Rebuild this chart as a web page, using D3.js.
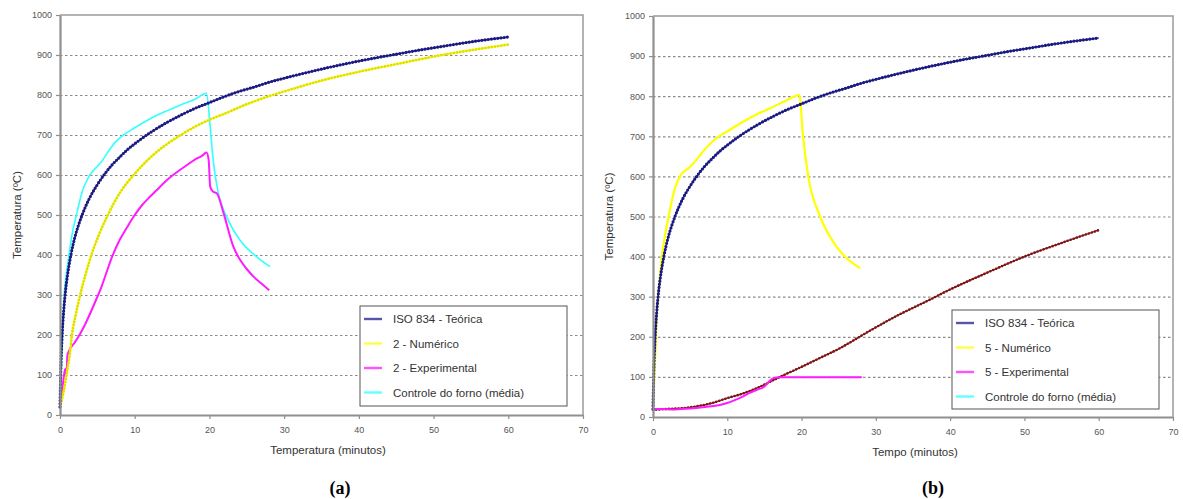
<!DOCTYPE html>
<html lang="pt">
<head>
<meta charset="utf-8">
<title>Temperatura x tempo</title>
<script src="https://cdn.jsdelivr.net/npm/d3@7"></script>
<style>
  body { margin: 0; background: #fff; }
  svg text { font-family: "Liberation Sans", Arial, sans-serif; }
  .tick text { fill: #555; font-size: 9px; }
  .grid line { stroke: #8a8a8a; stroke-dasharray: 2.5 2.5; stroke-width: 1.2; }
  .grid .domain { display: none; }
  .axis .domain { stroke: #8f8f8f; stroke-width: 2.2; }
  .axis .tick line { stroke: #8f8f8f; stroke-width: 1.2; }
  .legend-box { fill: #fff; stroke: #555; stroke-width: 1; }
  .legend text { fill: #333; font-size: 11.5px; }
  .axis-title { fill: #333; font-size: 11.5px; }
  .panel-label { font-family: "Liberation Serif", "Times New Roman", serif !important; font-weight: bold; font-size: 18px; fill: #000; }
</style>
</head>
<body>
<svg id="chart" width="1183" height="499"></svg>
<script>
// ticks
var minuteTicks = [0, 10, 20, 30, 40, 50, 60, 70];
var tempTicks = [0, 100, 200, 300, 400, 500, 600, 700, 800, 900, 1000];
var gridTicks = [100, 200, 300, 400, 500, 600, 700, 800, 900];

// [minutos, ºC]
var isoTeorica = [[0,20],[0.1,108],[0.25,185],[0.5,261],[0.75,312],[1,349],[1.5,404],[2,445],[2.5,476],
  [3,502],[4,544],[5,576],[6,603],[7,626],[8,645],[9,663],[10,678],[12,705],[14,728],[16,748],[18,766],
  [20,781],[22,796],[24,809],[26,820],[28,832],[30,842],[33,856],[36,869],[39,881],[42,892],[45,902],
  [48,912],[51,921],[54,930],[57,938],[60,945]];

// (a) corpo de prova 2
var numerico2 = [[0,20],[0.5,60],[1,115],[1.3,150],[1.6,200],[2.1,250],[2.7,300],[3.4,350],[4.2,400],
  [5.2,450],[6.4,500],[8,555],[10,603],[12,642],[14,673],[16,698],[18,720],[20,738],[22,753],[25,777],
  [28,797],[32,820],[35,836],[40,858],[45,877],[50,896],[55,912],[60,926]];
var experimental2 = [[0,20],[0.3,60],[0.5,95],[0.7,115],[0.85,100],[1,150],[1.2,160],[2,182],[2.7,203],
  [3.5,232],[4.3,265],[5.1,300],[5.5,318],[6.2,355],[6.9,392],[8,438],[9,470],[10,500],[11,525],[12,545],
  [13,563],[14,582],[15,598],[16,612],[17,625],[18,638],[19,648],[19.6,656],[19.9,637],[20.1,571],
  [20.5,558],[21,554],[21.9,504],[23.2,421],[24.1,388],[25,365],[25.9,346],[27,328],[28,312]];
var controleA = [[0,20],[0.2,120],[0.4,230],[0.6,310],[0.8,345],[1.2,400],[1.6,450],[2.2,500],[3,560],
  [4,600],[5,622],[5.5,632],[6.5,660],[7.5,684],[8.5,700],[10,718],[12,740],[14,758],[16,774],[18,789],
  [19.6,804],[20.1,721],[20.5,637],[21.2,554],[22.3,496],[24.1,437],[26.3,396],[28.1,371]];

// (b) corpo de prova 5
var numerico5 = [[0,20],[0.3,150],[0.5,250],[0.7,300],[1.2,400],[1.6,450],[2.1,500],[2.8,560],[3.6,600],
  [5,624],[6,645],[7,668],[8.8,699],[10,712],[12,735],[14,755],[16,772],[18,790],[19.7,803],[20.2,699],
  [20.9,600],[22.5,500],[24.7,425],[26.3,392],[27.9,371]];
var experimental5 = [[0,20],[1,20],[3,19],[5,21],[7,25],[9,30],[10,35],[11,42],[12,50],[13,60],[14,68],
  [15,76],[15.6,88],[16.2,97],[17,99],[20,99],[25,99],[28.1,99]];
var semLegenda5 = [[0,18],[2,20],[4,22],[6,27],[8,35],[10,47],[12,58],[14,72],[16,90],[18,108],[20,125],
  [22,143],[25,170],[29,213],[33,254],[37,290],[40,318],[45,360],[50,400],[55,434],[60,466]];

var legendA = ["ISO 834 - Teórica", "2 - Numérico", "2 - Experimental", "Controle do forno (média)"];
var legendB = ["ISO 834 - Teórica", "5 - Numérico", "5 - Experimental", "Controle do forno (média)"];

var NAVY = "#1c1c8c", YELLOW = "#ffff00", MAGENTA = "#ff1aff", CYAN = "#33ffff", DARKRED = "#8e1c1c";
var legendColors = [NAVY, YELLOW, MAGENTA, CYAN];

var svg = d3.select("#chart");

function drawPanel(p) {
  var x = d3.scaleLinear().domain([0, 70]).range([p.left, p.right]);
  var y = d3.scaleLinear().domain([0, 1000]).range([p.bottom, p.top]);
  var g = svg.append("g");

  // grid
  g.append("g").attr("class", "grid")
    .attr("transform", "translate(" + p.left + ",0)")
    .call(d3.axisLeft(y).tickValues(gridTicks).tickSize(-(p.right - p.left)).tickFormat(""));

  // frame top/right
  g.append("path")
    .attr("d", "M" + p.left + "," + y(1000) + "H" + p.right + "V" + p.bottom)
    .attr("fill", "none").attr("stroke", "#9a9a9a").attr("stroke-width", 1.5);

  // lines
  var line = d3.line().x(function(d) { return x(d[0]); }).y(function(d) { return y(d[1]); })
    .curve(d3.curveMonotoneX);
  p.series.forEach(function(s) {
    g.append("path").datum(s.data).attr("d", line)
      .attr("fill", "none").attr("stroke", s.color).attr("stroke-width", s.width)
      .attr("stroke-linejoin", "round");
    if (s.beads) {
      // small square markers along the line, like the spreadsheet's dotted series
      g.append("path").datum(s.data).attr("d", line)
        .attr("fill", "none").attr("stroke", s.beads).attr("stroke-width", s.bead || 3)
        .attr("stroke-linecap", "round").attr("stroke-dasharray", "0 3.2");
    }
  });

  // axes
  g.append("g").attr("class", "axis")
    .attr("transform", "translate(" + p.left + ",0)")
    .call(d3.axisLeft(y).tickValues(tempTicks).tickFormat(d3.format("d")).tickSize(4).tickSizeOuter(0).tickPadding(4));
  g.append("g").attr("class", "axis")
    .attr("transform", "translate(0," + p.bottom + ")")
    .call(d3.axisBottom(x).tickValues(minuteTicks).tickSize(4).tickSizeOuter(0).tickPadding(8));

  // titles
  g.append("text").attr("class", "axis-title")
    .attr("transform", "translate(" + p.yTitleX + "," + ((p.top + p.bottom) / 2) + ") rotate(-90)")
    .attr("text-anchor", "middle").attr("fill", "#2f3f6f").text("Temperatura (ºC)");
  g.append("text").attr("class", "axis-title")
    .attr("x", p.xTitleX).attr("y", p.bottom + 39).attr("text-anchor", "middle").text(p.xTitle);

  // legend
  var lg = g.append("g").attr("class", "legend");
  lg.append("rect").attr("class", "legend-box")
    .attr("x", p.legend[0]).attr("y", p.legend[1]).attr("width", p.legend[2]).attr("height", p.legend[3]);
  p.labels.forEach(function(label, i) {
    var cy = p.legend[1] + 13 + i * 24.5;
    lg.append("line").attr("x1", p.legend[0] + 4).attr("x2", p.legend[0] + 22)
      .attr("y1", cy).attr("y2", cy).attr("stroke", legendColors[i]).attr("stroke-width", 2.4)
      .attr("stroke-opacity", 0.75);
    lg.append("text").attr("x", p.legend[0] + 33).attr("y", cy + 4).text(label);
  });

  svg.append("text").attr("class", "panel-label")
    .attr("x", p.tag[0]).attr("y", p.tag[1]).attr("text-anchor", "middle").text(p.tagText);
}

drawPanel({
  left: 60, right: 583, top: 15, bottom: 415,
  yTitleX: 21, xTitle: "Temperatura (minutos)", xTitleX: 328,
  legend: [360, 306, 207, 100], labels: legendA,
  tag: [340, 494], tagText: "(a)",
  series: [
    { data: controleA, color: CYAN, width: 1.6 },
    { data: experimental2, color: MAGENTA, width: 2 },
    { data: numerico2, color: YELLOW, width: 1.8, beads: "#e0e000", bead: 2.8 },
    { data: isoTeorica, color: NAVY, width: 1.4, beads: "#1a1a80", bead: 3.2 }
  ]
});

drawPanel({
  left: 653, right: 1173, top: 16, bottom: 417,
  yTitleX: 613, xTitle: "Tempo (minutos)", xTitleX: 915,
  legend: [952, 310, 207, 99], labels: legendB,
  tag: [933, 494], tagText: "(b)",
  series: [
    { data: semLegenda5, color: DARKRED, width: 1.4, beads: "#7a1616", bead: 2.6 },
    { data: experimental5, color: MAGENTA, width: 2 },
    { data: numerico5, color: YELLOW, width: 2.2 },
    { data: isoTeorica, color: NAVY, width: 1.4, beads: "#1a1a80", bead: 3.2 }
  ]
});
</script>
</body>
</html>
